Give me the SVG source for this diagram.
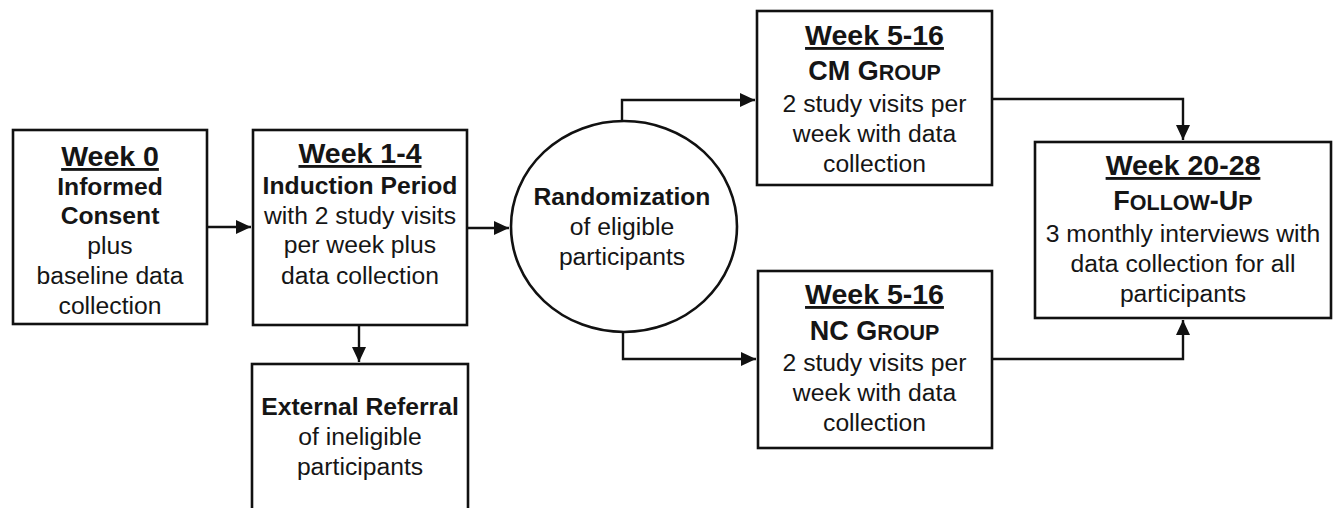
<svg xmlns="http://www.w3.org/2000/svg" width="1335" height="508" viewBox="0 0 1335 508">
<style>
.box{fill:#fff;stroke:#111;stroke-width:2.6}
.con{fill:none;stroke:#111;stroke-width:2.4}
text{font-family:"Liberation Sans",Arial,sans-serif;fill:#151515;text-anchor:middle;font-size:24.7px}
.t{font-weight:bold;font-size:28.5px;text-decoration:underline}
.b{font-weight:bold}
.sc{font-size:21.5px}
.big{font-size:27px}
</style>
<defs>
<marker id="ah" markerUnits="userSpaceOnUse" markerWidth="15" markerHeight="14" refX="15" refY="7" orient="auto">
<path d="M0,0 L15,7 L0,14 Z" fill="#111"/>
</marker>
</defs>
<rect width="1335" height="508" fill="#fff"/>

<g id="connectors">
<path class="con" d="M207,227 H251" marker-end="url(#ah)"/>
<path class="con" d="M467,228 H509" marker-end="url(#ah)"/>
<path class="con" d="M359,325 V362" marker-end="url(#ah)"/>
<path class="con" d="M622,121 V100 H755" marker-end="url(#ah)"/>
<path class="con" d="M623,332 V359 H756" marker-end="url(#ah)"/>
<path class="con" d="M992,99 H1183 V140" marker-end="url(#ah)"/>
<path class="con" d="M992,359 H1183 V320" marker-end="url(#ah)"/>
</g>

<g id="week0">
<rect class="box" x="13" y="130" width="194" height="194"/>
<text class="t" x="110" y="166">Week 0</text>
<text class="b" x="110" y="195">Informed</text>
<text class="b" x="110" y="224">Consent</text>
<text x="110" y="254">plus</text>
<text x="110" y="284">baseline data</text>
<text x="110" y="314">collection</text>
</g>

<g id="week1-4">
<rect class="box" x="253" y="130" width="214" height="195"/>
<text class="t" x="360" y="163">Week 1-4</text>
<text class="b" x="360" y="194">Induction Period</text>
<text x="360" y="224">with 2 study visits</text>
<text x="360" y="253">per week plus</text>
<text x="360" y="284">data collection</text>
</g>

<g id="referral">
<rect class="box" x="252" y="364" width="216" height="170"/>
<text class="b" x="360" y="415">External Referral</text>
<text x="360" y="445">of ineligible</text>
<text x="360" y="475">participants</text>
</g>

<g id="randomization">
<ellipse class="box" cx="624" cy="226.5" rx="113" ry="105.5"/>
<text class="b" x="622" y="205">Randomization</text>
<text x="622" y="235">of eligible</text>
<text x="622" y="265">participants</text>
</g>

<g id="cm-group">
<rect class="box" x="757" y="11" width="235" height="174"/>
<text class="t" x="874.5" y="45">Week 5-16</text>
<text class="b" x="874.5" y="80"><tspan class="big">CM G</tspan><tspan class="sc">ROUP</tspan></text>
<text x="874.5" y="112">2 study visits per</text>
<text x="874.5" y="142">week with data</text>
<text x="874.5" y="172">collection</text>
</g>

<g id="nc-group">
<rect class="box" x="758" y="271" width="234" height="177"/>
<text class="t" x="874.5" y="304">Week 5-16</text>
<text class="b" x="874.5" y="340"><tspan class="big">NC G</tspan><tspan class="sc">ROUP</tspan></text>
<text x="874.5" y="371">2 study visits per</text>
<text x="874.5" y="401">week with data</text>
<text x="874.5" y="431">collection</text>
</g>

<g id="follow-up">
<rect class="box" x="1035" y="142" width="296" height="176"/>
<text class="t" x="1183" y="175">Week 20-28</text>
<text class="b" x="1183" y="210"><tspan class="big">F</tspan><tspan class="sc">OLLOW</tspan><tspan class="big">-U</tspan><tspan class="sc">P</tspan></text>
<text x="1183" y="242">3 monthly interviews with</text>
<text x="1183" y="272">data collection for all</text>
<text x="1183" y="302">participants</text>
</g>
</svg>
